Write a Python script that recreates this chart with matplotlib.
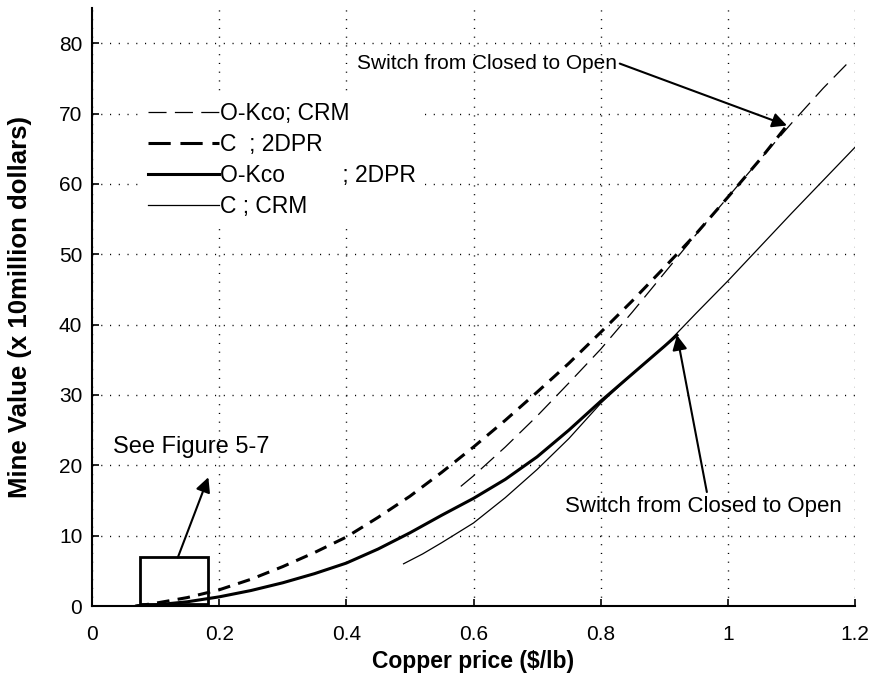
import matplotlib
matplotlib.use("Agg")
import matplotlib.pyplot as plt
from matplotlib import font_manager
from matplotlib.lines import Line2D
from matplotlib.patches import Rectangle

plt.rcParams['lines.scale_dashes'] = False

# ---------------- data ----------------
# C ; 2DPR (thick dashed) - ends at the switch point
x_c_2dpr = [0.07, 0.10, 0.15, 0.20, 0.25, 0.30, 0.35, 0.40, 0.45, 0.50, 0.55,
            0.60, 0.65, 0.70, 0.75, 0.80, 0.85, 0.90, 0.95, 1.00, 1.05, 1.093]
y_c_2dpr = [0.0, 0.4, 1.2, 2.3, 3.8, 5.6, 7.6, 9.8, 12.6, 15.6, 19.0,
            22.6, 26.4, 30.4, 34.5, 38.9, 43.4, 48.1, 52.9, 58.1, 63.4, 68.3]

# O-Kco ; CRM (thin dashed)
x_o_crm = [0.58, 0.60, 0.65, 0.70, 0.75, 0.80, 0.85, 0.90, 0.95, 1.00, 1.05, 1.10, 1.15, 1.19]
y_o_crm = [17.0, 18.5, 22.6, 27.0, 31.7, 36.5, 41.8, 47.3, 52.8, 58.1, 63.4, 68.6, 73.6, 77.3]

# O-Kco ; 2DPR (thick solid) - ends at the switch point
x_o_2dpr = [0.07, 0.10, 0.15, 0.20, 0.25, 0.30, 0.35, 0.40, 0.45, 0.50, 0.55,
            0.60, 0.65, 0.70, 0.75, 0.80, 0.85, 0.90, 0.92]
y_o_2dpr = [0.0, 0.15, 0.6, 1.3, 2.2, 3.3, 4.6, 6.1, 8.1, 10.4, 12.9,
            15.3, 18.0, 21.2, 25.0, 29.1, 33.0, 36.9, 38.5]

# C ; CRM (thin solid)
x_c_crm = [0.49, 0.52, 0.55, 0.60, 0.65, 0.70, 0.75, 0.80, 0.85, 0.90,
           0.95, 1.00, 1.05, 1.10, 1.15, 1.20]
y_c_crm = [6.0, 7.4, 9.0, 11.8, 15.4, 19.4, 23.8, 28.8, 33.0, 36.9,
           41.6, 46.2, 51.0, 55.8, 60.5, 65.2]

legend_labels = ["O-Kco; CRM", "C  ; 2DPR", "O-Kco         ; 2DPR", "C ; CRM"]
x_ticks = [0, 0.2, 0.4, 0.6, 0.8, 1.0, 1.2]
x_ticklabels = ["0", "0.2", "0.4", "0.6", "0.8", "1", "1.2"]
y_ticks = [0, 10, 20, 30, 40, 50, 60, 70, 80]

# zoom box (see Figure 5-7)
box_x = [0.075, 0.183]
box_y = [0.3, 6.9]

# annotation anchors (data coords)
switch_top_text = (0.826, 77.1)
switch_top_tail = (0.830, 77.1)
switch_top_tip = (1.093, 68.3)
switch_bot_text = (0.744, 14.1)
switch_bot_tail = (0.967, 16.2)
switch_bot_tip = (0.920, 38.5)
see_text = (0.033, 22.6)
see_tail = (0.135, 6.9)
see_tip = (0.183, 18.3)

# ---------------- fonts ----------------
names = {f.name for f in font_manager.fontManager.ttflist}
base = 'Liberation Sans' if 'Liberation Sans' in names else 'DejaVu Sans'
plt.rcParams['font.family'] = [base, 'DejaVu Sans']

# ---------------- figure ----------------
fig = plt.figure(figsize=(8.75, 6.78), dpi=100)
ax = fig.add_axes([92 / 875, 72 / 678, 763 / 875, 598 / 678])

thick = 2.2
thin = 0.9
l1, = ax.plot(x_o_crm, y_o_crm, color='black', lw=thin, dashes=(13, 6))
l2, = ax.plot(x_c_2dpr, y_c_2dpr, color='black', lw=thick, dashes=(9, 6))
l3, = ax.plot(x_o_2dpr, y_o_2dpr, color='black', lw=thick)
l4, = ax.plot(x_c_crm, y_c_crm, color='black', lw=thin)

ax.set_xlim(0, 1.2)
ax.set_ylim(0, 85)
ax.set_xticks(x_ticks)
ax.set_xticklabels(x_ticklabels)
ax.set_yticks(y_ticks)

ax.grid(True, color='black', lw=1.0, linestyle=(0, (0.8, 5.5)))
ax.set_axisbelow(True)
for s in ['top', 'right']:
    ax.spines[s].set_visible(False)
for s in ['left', 'bottom']:
    ax.spines[s].set_linewidth(1.5)
ax.tick_params(direction='in', length=5, width=1.2, labelsize=15)
ax.tick_params(axis='x', pad=14)
ax.tick_params(axis='y', pad=7)

ax.set_xlabel("Copper price ($/lb)", fontsize=16.5, fontweight='bold')
ax.set_ylabel("Mine Value (x 10million dollars)", fontsize=18.5, fontweight='bold')
ax.xaxis.set_label_coords(0.5, -0.074)
ax.yaxis.set_label_coords(-0.078, 0.5)

# legend (white box without visible edge, as in the original)
leg_handles = [Line2D([], [], color='black', lw=thin, dashes=(13, 6)),
               Line2D([], [], color='black', lw=thick, dashes=(16, 7)),
               Line2D([], [], color='black', lw=thick),
               Line2D([], [], color='black', lw=thin)]
leg = ax.legend(leg_handles, legend_labels, loc='upper left', bbox_to_anchor=(0.064, 0.855),
                frameon=True, fancybox=False, fontsize=16.5, handlelength=3.1,
                handletextpad=0.05, borderpad=0.3, borderaxespad=0, labelspacing=0.36)
leg.get_frame().set_facecolor('white')
leg.get_frame().set_edgecolor('white')
leg.get_frame().set_alpha(1)

# zoom box
ax.add_patch(Rectangle((box_x[0], box_y[0]), box_x[1] - box_x[0], box_y[1] - box_y[0],
                       fill=False, ec='black', lw=2, zorder=4))

arrow = dict(arrowstyle='-|>', mutation_scale=22, lw=1.5, color='black', shrinkA=0, shrinkB=0)
ax.text(*switch_top_text, "Switch from Closed to Open", ha='right', va='center', fontsize=15)
ax.annotate('', xy=switch_top_tip, xytext=switch_top_tail, arrowprops=arrow)
ax.text(*switch_bot_text, "Switch from Closed to Open", ha='left', va='center', fontsize=16)
ax.annotate('', xy=switch_bot_tip, xytext=switch_bot_tail, arrowprops=arrow)
ax.text(*see_text, "See Figure 5-7", ha='left', va='center', fontsize=17)
ax.annotate('', xy=see_tip, xytext=see_tail, arrowprops=arrow)

fig.savefig("out.png", dpi=100)
